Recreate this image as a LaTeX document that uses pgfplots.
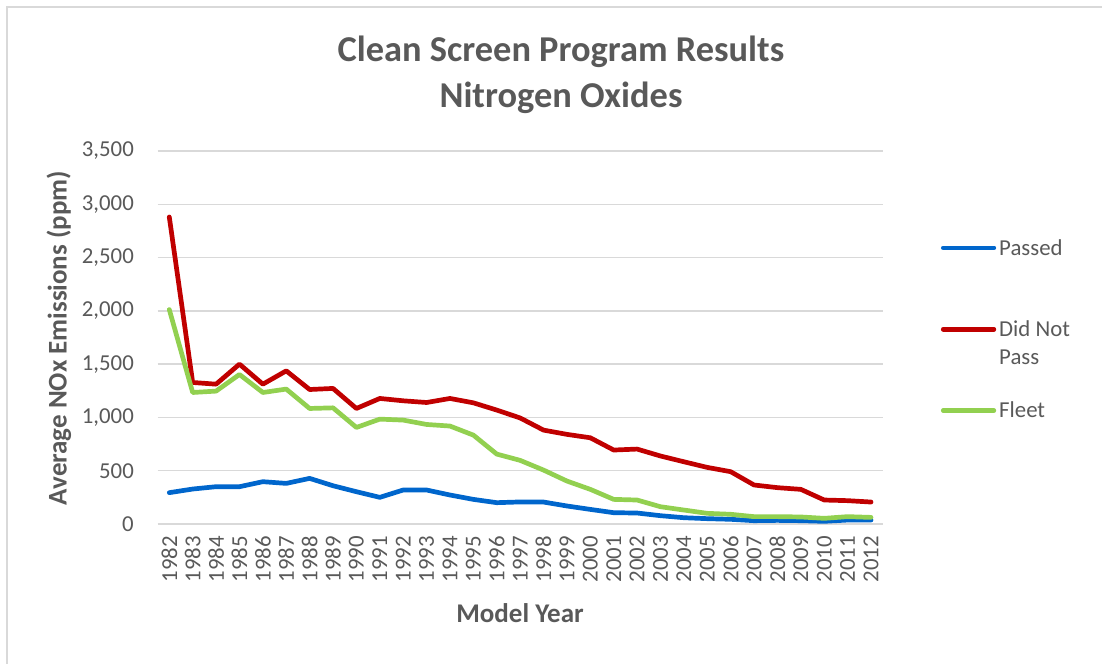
\documentclass[border=0pt]{standalone}
\usepackage{pgfplots}
\usepackage{pgfplotstable}
\pgfplotsset{compat=1.18}
\usepackage{fontspec}
\setmainfont{Carlito}
\definecolor{txt}{HTML}{595959}
\definecolor{gridc}{HTML}{D9D9D9}
\definecolor{cblue}{HTML}{0066CC}
\definecolor{cred}{HTML}{C00000}
\definecolor{cgreen}{HTML}{92D050}

\pgfplotstableread{
x pass fail fleet
0 294 2881 2012
1 328 1328 1234
2 350 1312 1247
3 350 1500 1403
4 397 1312 1234
5 381 1437 1266
6 428 1262 1084
7 359 1272 1090
8 303 1084 906
9 250 1178 984
10 319 1156 975
11 319 1140 934
12 272 1178 919
13 231 1137 834
14 200 1069 656
15 207 995 597
16 206 881 506
17 169 841 403
18 137 809 325
19 106 694 231
20 103 703 225
21 78 638 162
22 59 584 131
23 50 531 100
24 44 491 91
25 31 366 69
26 34 341 69
27 31 325 66
28 25 225 53
29 37 219 69
30 37 206 62
}\data

\begin{document}
\begin{tikzpicture}
\path[use as bounding box] (0bp,0bp) rectangle (1102bp,664bp);
\draw[gridc, line width=1.5bp] (7bp,0bp) -- (7bp,657bp) -- (1102bp,657bp);
\begin{axis}[
  at={(157.6bp,140bp)}, anchor=south west,
  scale only axis, width=725.1bp, height=373bp,
  xmin=-0.5, xmax=30.5, ymin=0, ymax=3500,
  xtick={0,...,30},
  xticklabels={1982,1983,1984,1985,1986,1987,1988,1989,1990,1991,1992,1993,1994,1995,1996,1997,1998,1999,2000,2001,2002,2003,2004,2005,2006,2007,2008,2009,2010,2011,2012},
  ytick={0,500,...,3500},
  /pgf/number format/.cd, 1000 sep={,}, assume math mode=true, /pgfplots/.cd,
  ymajorgrids, major grid style={gridc, line width=1.3bp},
  axis line style={draw=none},
  major tick length=0pt,
  tick label style={font=\fontsize{22.8bp}{27bp}\selectfont, text=txt, inner sep=0pt},
  xticklabel style={rotate=90, anchor=east},
  yticklabel style={anchor=east},
  xticklabel shift=12bp,
  yticklabel shift=23.6bp,
  legend cell align=left,
  legend style={draw=none, fill=none, at={(1.080,0.764)}, anchor=north west,
    inner sep=0pt, row sep=64bp, column sep=3bp,
    nodes={inner sep=0pt, text=txt, font=\fontsize{22.8bp}{28bp}\selectfont}},
  legend image code/.code={\draw[#1, line cap=round] (0bp,0bp) -- (50.6bp,0bp);},
]
\addplot[cblue, line width=4.7bp, line join=round, line cap=round] table[x=x, y=pass]{\data};
\addlegendentry{Passed}
\addplot[cred, line width=4.7bp, line join=round, line cap=round] table[x=x, y=fail]{\data};
\addlegendentry{\vphantom{Passed}\smash{\begin{tabular}[t]{@{}l@{}}Did Not\\Pass\end{tabular}}}
\addplot[cgreen, line width=4.7bp, line join=round, line cap=round] table[x=x, y=fleet]{\data};
\addlegendentry{Fleet\vphantom{Passed}}
\end{axis}
\node[anchor=base, text=txt, font=\fontsize{36.4bp}{42bp}\selectfont\bfseries] at (561bp,602bp) {Clean Screen Program Results};
\node[anchor=base, text=txt, font=\fontsize{36.4bp}{42bp}\selectfont\bfseries] at (561bp,556bp) {Nitrogen Oxides};
\node[anchor=base, rotate=90, text=txt, font=\fontsize{27bp}{32bp}\selectfont\bfseries] at (66.7bp,326bp) {Average NOx Emissions (ppm)};
\node[anchor=base, text=txt, font=\fontsize{27bp}{32bp}\selectfont\bfseries] at (520bp,41bp) {Model Year};
\end{tikzpicture}
\end{document}
